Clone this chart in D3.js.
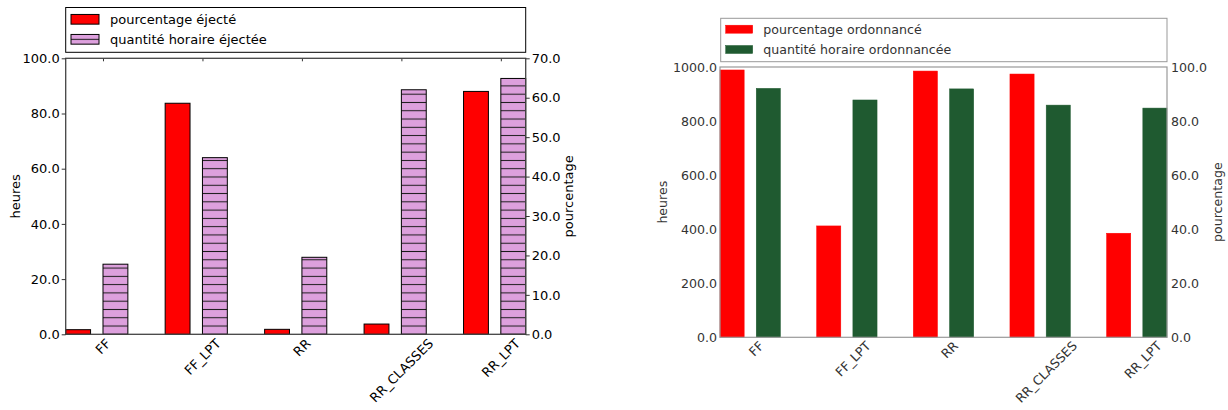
<!DOCTYPE html>
<html><head><meta charset="utf-8">
<script src="https://cdn.jsdelivr.net/npm/d3@7"></script>
<style>body{margin:0;background:#fff} text{font-family:"DejaVu Sans",sans-serif}</style>
</head><body><svg id="c" width="1228" height="410"></svg>
<script>
// ---- data ----
const categories = ["FF", "FF_LPT", "RR", "RR_CLASSES", "RR_LPT"];
// left chart: percentage on right axis (0-70), hourly quantity on left axis (0-100)
const ejectPct   = [1.17, 58.6, 1.26, 2.6, 61.6];
const ejectHours = [25.4, 64.0, 27.9, 88.6, 92.7];
// right chart: percentage on right axis (0-100), hourly quantity on left axis (0-1000)
const ordPct   = [98.9, 41.2, 98.5, 97.4, 38.5];
const ordHours = [921, 878, 919, 859, 848];
const leftTicksA  = [0, 20, 40, 60, 80, 100];
const rightTicksA = [0, 10, 20, 30, 40, 50, 60, 70];
const leftTicksB  = [0, 200, 400, 600, 800, 1000];
const rightTicksB = [0, 20, 40, 60, 80, 100];
const legendA = ["pourcentage éjecté", "quantité horaire éjectée"];
const legendB = ["pourcentage ordonnancé", "quantité horaire ordonnancée"];
const yLabelLeft = "heures", yLabelRight = "pourcentage";

const svg = d3.select("#c");
const defs = svg.append("defs");

function makeHatch(id, spacing, anchorY) {
  const off = ((anchorY - spacing / 2) % spacing + spacing) % spacing;
  const p = defs.append("pattern").attr("id", id).attr("patternUnits", "userSpaceOnUse")
    .attr("x", 0).attr("y", off).attr("width", 10).attr("height", spacing);
  p.append("rect").attr("width", 10).attr("height", spacing).attr("fill", "#DDA0DD");
  p.append("line").attr("x1", 0).attr("x2", 10).attr("y1", spacing / 2).attr("y2", spacing / 2)
    .attr("stroke", "#1a1a1a").attr("stroke-width", 1);
}

function drawChart(o) {
  const g = svg.append("g");
  const n = categories.length;
  const bw = 0.25, off2 = 0.375;
  const x = d3.scaleLinear().domain([0, (n - 1) + off2 + bw]).range([o.x0, o.x1]);
  const yL = d3.scaleLinear().domain([0, o.leftMax]).range([o.yBot, o.yTop]);
  const yR = d3.scaleLinear().domain([0, o.rightMax]).range([o.yBot, o.yTop]);
  const tickX = categories.map((c, i) => i + off2);

  // inner x ticks
  if (o.xTicks) {
    g.append("g").attr("transform", `translate(0,${o.yTop})`).attr("color", o.axisColor)
      .call(d3.axisTop(x).tickValues(tickX).tickSize(-3).tickFormat(""))
      .call(s => s.select(".domain").remove());
    g.append("g").attr("transform", `translate(0,${o.yBot})`).attr("color", o.axisColor)
      .call(d3.axisBottom(x).tickValues(tickX).tickSize(-3).tickFormat(""))
      .call(s => s.select(".domain").remove());
  }

  // bars: series A (right axis)
  g.append("g").selectAll("rect").data(o.seriesA).join("rect")
    .attr("x", (d, i) => x(i)).attr("width", (d, i) => x(i + bw) - x(i))
    .attr("y", d => yR(d)).attr("height", d => yR(0) - yR(d))
    .attr("fill", o.colorA).attr("stroke", o.edgeA).attr("stroke-width", o.edgeW);
  // bars: series B (left axis)
  g.append("g").selectAll("rect").data(o.seriesB).join("rect")
    .attr("x", (d, i) => x(i + off2)).attr("width", (d, i) => x(i + off2 + bw) - x(i + off2))
    .attr("y", d => yL(d)).attr("height", d => yL(0) - yL(d))
    .attr("fill", o.fillB).attr("stroke", o.edgeB).attr("stroke-width", o.edgeW);

  // frame
  g.append("rect").attr("x", o.x0).attr("y", o.yTop).attr("width", o.x1 - o.x0)
    .attr("height", o.yBot - o.yTop).attr("fill", "none")
    .attr("stroke", o.frameColor).attr("stroke-width", o.frameW);

  // y axes
  const fmt = d3.format(".1f");
  const ax = (sel) => sel.attr("font-family", "DejaVu Sans").attr("font-size", o.fs)
    .attr("color", o.axisColor).call(s => s.select(".domain").remove())
    .call(s => s.selectAll("text").attr("fill", o.textColor));
  g.append("g").attr("transform", `translate(${o.x0},0)`)
    .call(d3.axisLeft(yL).tickValues(o.leftTicks).tickFormat(fmt).tickSize(o.tickLen).tickPadding(o.padL))
    .call(ax);
  g.append("g").attr("transform", `translate(${o.x1},0)`)
    .call(d3.axisRight(yR).tickValues(o.rightTicks).tickFormat(fmt).tickSize(o.tickLen).tickPadding(o.padR))
    .call(ax);

  // x labels rotated 45
  const lab = g.append("g").selectAll("text").data(categories).join("text")
    .attr("font-size", o.fs).attr("fill", o.textColor).attr("text-anchor", "middle")
    .attr("dy", "0.36em").text(d => d);
  lab.each(function (d, i) {
    const w = this.getComputedTextLength();
    const cy = o.yBot + o.xPad + (w + o.fs * 0.72) / (2 * Math.SQRT2);
    d3.select(this).attr("transform", `translate(${x(tickX[i])},${cy}) rotate(-45)`);
  });

  // axis titles
  const cyMid = (o.yTop + o.yBot) / 2;
  g.append("text").attr("transform", `translate(${o.titleLX},${cyMid}) rotate(-90)`)
    .attr("text-anchor", "middle").attr("dy", "0.36em").attr("font-size", o.fs)
    .attr("fill", o.textColor).text(yLabelLeft);
  g.append("text").attr("transform", `translate(${o.titleRX},${cyMid}) rotate(-90)`)
    .attr("text-anchor", "middle").attr("dy", "0.36em").attr("font-size", o.fs)
    .attr("fill", o.textColor).text(yLabelRight);

  // legend
  const L = o.legend;
  g.append("rect").attr("x", L.x0).attr("y", L.y0).attr("width", L.x1 - L.x0).attr("height", L.y1 - L.y0)
    .attr("fill", "#fff").attr("stroke", o.legendStroke).attr("stroke-width", 1);
  const items = [{ t: o.legendText[0], f: o.colorA, e: o.edgeA, y: L.rowY[0] },
                 { t: o.legendText[1], f: o.legendFillB, e: o.edgeB, y: L.rowY[1] }];
  items.forEach(it => {
    g.append("rect").attr("x", L.px).attr("y", it.y - L.ph / 2).attr("width", L.pw).attr("height", L.ph)
      .attr("fill", it.f).attr("stroke", it.e).attr("stroke-width", o.edgeW);
    g.append("text").attr("x", L.tx).attr("y", it.y).attr("dy", "0.36em").attr("font-size", o.fs)
      .attr("fill", o.textColor).text(it.t);
  });
}

makeHatch("hatchA", 8.28, 334.3);
// legend hatch: single line centered in patch
const lp = defs.append("pattern").attr("id", "hatchLeg").attr("patternUnits", "userSpaceOnUse")
  .attr("x", 0).attr("y", 39.3 - 4.14).attr("width", 10).attr("height", 8.28);
lp.append("rect").attr("width", 10).attr("height", 8.28).attr("fill", "#DDA0DD");
lp.append("line").attr("x1", 0).attr("x2", 10).attr("y1", 4.14).attr("y2", 4.14).attr("stroke", "#1a1a1a");

drawChart({
  x0: 65.7, x1: 525.7, yTop: 58.3, yBot: 334.3,
  leftMax: 100, rightMax: 70, leftTicks: leftTicksA, rightTicks: rightTicksA,
  seriesA: ejectPct, seriesB: ejectHours,
  colorA: "#FF0000", edgeA: "#000", fillB: "url(#hatchA)", legendFillB: "url(#hatchLeg)", edgeB: "#000", edgeW: 1,
  frameColor: "#444", frameW: 1.3, axisColor: "#333", textColor: "#000",
  fs: 13, tickLen: 4, padL: 2, padR: 2, xPad: 3.5, xTicks: true,
  titleLX: 15, titleRX: 568,
  legendText: legendA, legendStroke: "#000",
  legend: { x0: 65.7, x1: 525.7, y0: 7.5, y1: 52.3, rowY: [19.3, 39.3], px: 71, pw: 28, ph: 9.7, tx: 110 }
});

drawChart({
  x0: 720, x1: 1167, yTop: 67, yBot: 337.3,
  leftMax: 1000, rightMax: 100, leftTicks: leftTicksB, rightTicks: rightTicksB,
  seriesA: ordPct, seriesB: ordHours,
  colorA: "#FF0000", edgeA: "#FF0000", fillB: "#1F5A30", legendFillB: "#1F5A30", edgeB: "#1F5A30", edgeW: 0.5,
  frameColor: "#999", frameW: 1.2, axisColor: "#fff", textColor: "#333",
  fs: 12.6, tickLen: 0, padL: 3, padR: 4, xPad: 3, xTicks: false,
  titleLX: 662, titleRX: 1217,
  legendText: legendB, legendStroke: "#999",
  legend: { x0: 720.7, x1: 1167, y0: 18.3, y1: 61.7, rowY: [29.2, 49.5], px: 725.7, pw: 27, ph: 8, tx: 763.3 }
});
</script></body></html>
